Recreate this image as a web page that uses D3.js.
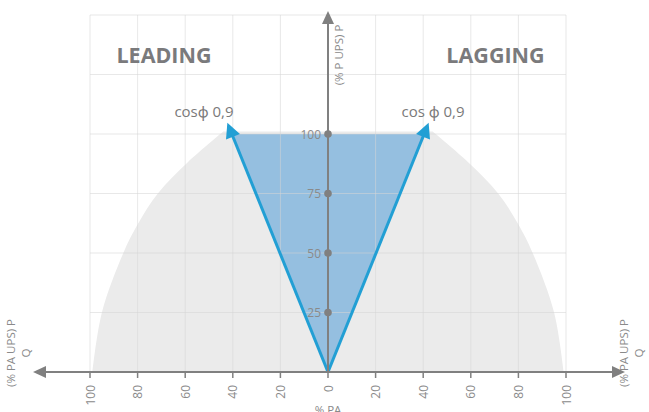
<!DOCTYPE html>
<html>
<head>
<meta charset="utf-8">
<script src="https://cdn.jsdelivr.net/npm/d3@7"></script>
<style>
  body { margin: 0; background: #fff; }
  svg { display: block; font-family: "Open Sans", "Noto Sans", sans-serif; }
</style>
</head>
<body>
<div id="chart"></div>
<script>
// capability curve (right half, mirrored for the left)
var curveP = [0, 25, 50, 62, 75, 88, 101];
var curveQ = [99, 95, 86, 80, 71.5, 59, 44];

// cos phi 0,9 limit: Q at P = 100
var limitP = [0, 100];
var limitQ = [0, 40.4];

var xTicks = [-100, -80, -60, -40, -20, 0, 20, 40, 60, 80, 100];
var yTicks = [25, 50, 75, 100];
var yGrid = [25, 50, 75, 100, 125, 150];

var width = 649, height = 412;

var x = d3.scaleLinear().domain([-100, 100]).range([90, 566]);
var y = d3.scaleLinear().domain([0, 150]).range([372, 15]);

var axisColor = "#808080";
var labelColor = "#8a8a8a";

var svg = d3.select("#chart").append("svg")
  .attr("width", width)
  .attr("height", height);

var defs = svg.append("defs");
defs.append("marker")
  .attr("id", "blueHead")
  .attr("viewBox", "0 0 10 10")
  .attr("refX", 2).attr("refY", 5)
  .attr("markerWidth", 5.5).attr("markerHeight", 5)
  .attr("markerUnits", "strokeWidth")
  .attr("orient", "auto")
  .append("path").attr("d", "M0,0 L10,5 L0,10 z").attr("fill", "#229fd4");

// gray capability area
var pts = [];
curveP.forEach(function(p, i) { pts.push([-curveQ[i], p]); });
var right = [];
curveP.forEach(function(p, i) { right.push([curveQ[i], p]); });
right.reverse();

var side = d3.line()
  .x(function(d) { return x(d[0]); })
  .y(function(d) { return y(d[1]); })
  .curve(d3.curveCatmullRom);

var leftPath = side(pts);
var rightPath = side(right);
svg.append("path")
  .attr("d", leftPath + "L" + rightPath.slice(1) + "Z")
  .attr("fill", "#ebebeb");

// blue triangle
var tri = [[0, 0], [-limitQ[1], limitP[1]], [limitQ[1], limitP[1]]];
svg.append("path")
  .attr("d", d3.line().x(function(d) { return x(d[0]); }).y(function(d) { return y(d[1]); })(tri) + "Z")
  .attr("fill", "#95bfe0");

// grid
var grid = svg.append("g")
  .attr("stroke", "#d6d6d6")
  .attr("stroke-opacity", 0.55)
  .attr("stroke-width", 1);

grid.selectAll("line.v")
  .data(xTicks.filter(function(d) { return d !== 0; }))
  .enter().append("line")
  .attr("x1", function(d) { return x(d); })
  .attr("x2", function(d) { return x(d); })
  .attr("y1", y(0))
  .attr("y2", y(150));

grid.selectAll("line.h")
  .data(yGrid)
  .enter().append("line")
  .attr("x1", x(-100))
  .attr("x2", x(100))
  .attr("y1", function(d) { return y(d); })
  .attr("y2", function(d) { return y(d); });

// cos phi lines with arrows
[-1, 1].forEach(function(s) {
  svg.append("line")
    .attr("x1", x(0)).attr("y1", y(0))
    .attr("x2", x(s * limitQ[1])).attr("y2", y(limitP[1]))
    .attr("stroke", "#229fd4")
    .attr("stroke-width", 3)
    .attr("marker-end", "url(#blueHead)");
});

// axes
var ax = svg.append("g").attr("stroke", axisColor).attr("stroke-width", 2);
ax.append("line").attr("x1", 45).attr("x2", 614).attr("y1", y(0)).attr("y2", y(0));
ax.append("line").attr("x1", x(0)).attr("x2", x(0)).attr("y1", y(0)).attr("y2", 23);

svg.append("path").attr("fill", axisColor)
  .attr("d", "M33," + y(0) + "L46," + (y(0) - 6) + "L46," + (y(0) + 6) + "Z");
svg.append("path").attr("fill", axisColor)
  .attr("d", "M625," + y(0) + "L612," + (y(0) - 6) + "L612," + (y(0) + 6) + "Z");
svg.append("path").attr("fill", axisColor)
  .attr("d", "M" + x(0) + ",11L" + (x(0) - 6) + ",24L" + (x(0) + 6) + ",24Z");

// x ticks
var xt = svg.append("g");
xt.selectAll("line")
  .data(xTicks)
  .enter().append("line")
  .attr("x1", function(d) { return x(d); })
  .attr("x2", function(d) { return x(d); })
  .attr("y1", y(0))
  .attr("y2", y(0) + 6)
  .attr("stroke", axisColor)
  .attr("stroke-width", 1.5);

xt.selectAll("text")
  .data(xTicks)
  .enter().append("text")
  .attr("transform", function(d) { return "translate(" + (x(d) + 4.5) + ",385) rotate(-90)"; })
  .attr("text-anchor", "end")
  .attr("font-size", 12)
  .attr("fill", labelColor)
  .text(function(d) { return Math.abs(d); });

// y ticks: dots and labels
var yt = svg.append("g");
yt.selectAll("circle")
  .data(yTicks)
  .enter().append("circle")
  .attr("cx", x(0))
  .attr("cy", function(d) { return y(d); })
  .attr("r", 3.8)
  .attr("fill", axisColor);

yt.selectAll("text")
  .data(yTicks)
  .enter().append("text")
  .attr("x", x(0) - 7)
  .attr("y", function(d) { return y(d) + 4.5; })
  .attr("text-anchor", "end")
  .attr("font-size", 12)
  .attr("fill", labelColor)
  .text(function(d) { return d; });

// axis titles
function rotText(cx, cy, str) {
  svg.append("text")
    .attr("transform", "translate(" + cx + "," + cy + ") rotate(-90)")
    .attr("text-anchor", "middle")
    .attr("font-size", 11.5)
    .attr("fill", labelColor)
    .text(str);
}
rotText(342.5, 55, "(% P UPS) P");
rotText(15, 353, "(% PA UPS) P");
rotText(30, 353, "Q");
rotText(627.5, 353, "(% PA UPS) P");
rotText(643, 353, "Q");

svg.append("text")
  .attr("x", x(0)).attr("y", 414)
  .attr("text-anchor", "middle")
  .attr("font-size", 11.5)
  .attr("fill", labelColor)
  .text("% PA");

// region titles
svg.append("text")
  .attr("x", 164).attr("y", 63)
  .attr("text-anchor", "middle")
  .attr("font-size", 21.5).attr("font-weight", "bold")
  .attr("fill", "#7a7a7c")
  .text("LEADING");
svg.append("text")
  .attr("x", 495.5).attr("y", 63)
  .attr("text-anchor", "middle")
  .attr("font-size", 21.5).attr("font-weight", "bold")
  .attr("fill", "#7a7a7c")
  .text("LAGGING");

svg.append("text")
  .attr("x", 204).attr("y", 117)
  .attr("text-anchor", "middle")
  .attr("font-size", 15)
  .attr("fill", "#7a7a7a")
  .text("cos\u03d5 0,9");
svg.append("text")
  .attr("x", 433).attr("y", 117)
  .attr("text-anchor", "middle")
  .attr("font-size", 15)
  .attr("fill", "#7a7a7a")
  .text("cos \u03d5 0,9");
</script>
</body>
</html>
